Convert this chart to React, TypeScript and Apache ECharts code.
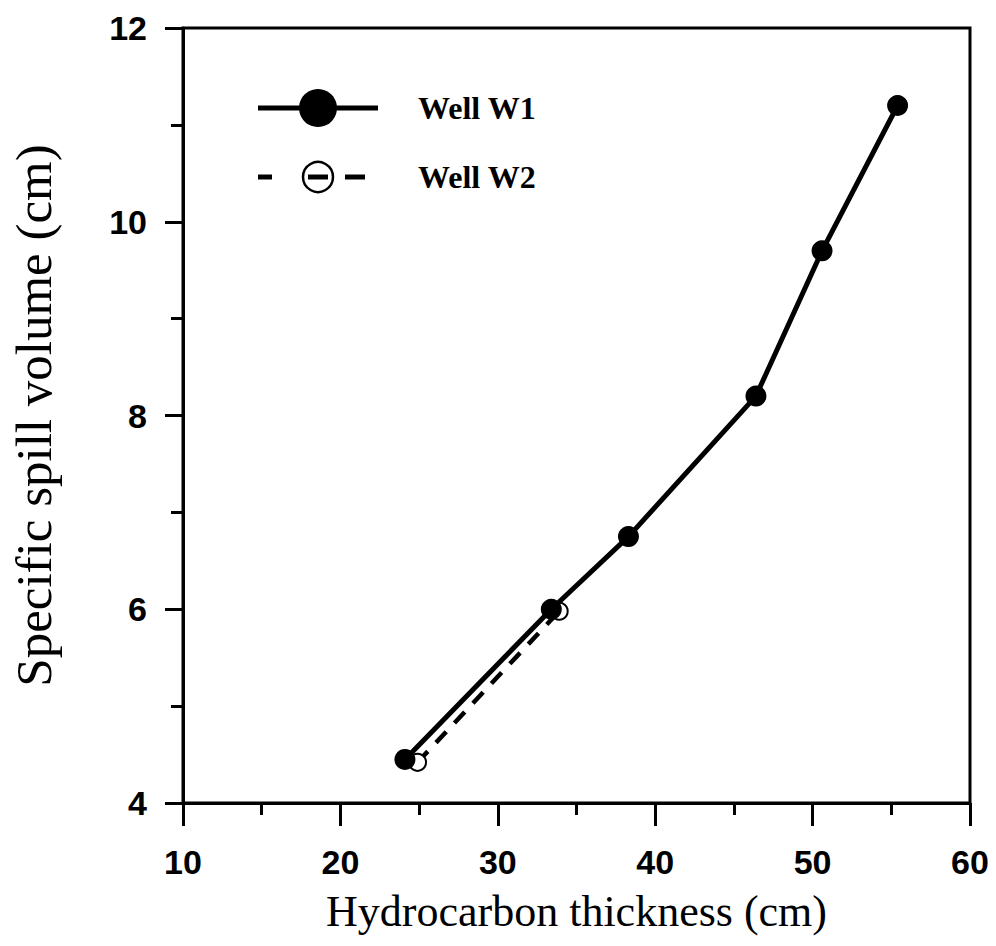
import React, { useEffect, useRef } from "react";
import * as echarts from "echarts";

const well1X = [24.1, 33.4, 38.3, 46.4, 50.6, 55.4];
const well1Y = [4.45, 6.0, 6.75, 8.2, 9.7, 11.2];
const well2X = [24.9, 33.9];
const well2Y = [4.42, 5.98];
const xTicks = [10, 20, 30, 40, 50, 60];
const yTicks = [4, 6, 8, 10, 12];
const seriesNames = ["Well W1", "Well W2"];

const SERIF = "'Liberation Serif', 'Times New Roman', serif";
const SANS = "'Liberation Sans', Arial, sans-serif";

export default function App() {
  const ref = useRef<HTMLDivElement>(null);
  useEffect(() => {
    if (!ref.current) return;
    const chart = echarts.init(ref.current, null, { renderer: "svg" });
    const pair = (xs: number[], ys: number[]) => xs.map((x, i) => [x, ys[i]]);
    chart.setOption({
      animation: false,
      backgroundColor: "#fff",
      grid: {
        left: 183,
        right: 26,
        top: 28,
        bottom: 143,
        show: true,
        borderColor: "#000",
        borderWidth: 3,
      },
      xAxis: {
        type: "value",
        min: xTicks[0],
        max: xTicks[xTicks.length - 1],
        interval: 10,
        name: "Hydrocarbon thickness (cm)",
        nameLocation: "middle",
        nameGap: 86,
        nameTextStyle: { fontFamily: SERIF, fontSize: 44, color: "#000" },
        axisLine: { lineStyle: { color: "#000", width: 3 } },
        axisTick: { inside: false, length: 23, lineStyle: { color: "#000", width: 3 } },
        minorTick: { show: true, splitNumber: 2, length: 12, lineStyle: { color: "#000", width: 3 } },
        splitLine: { show: false },
        axisLabel: {
          margin: 42,
          fontFamily: SANS,
          fontWeight: "bold",
          fontSize: 34,
          color: "#000",
        },
      },
      yAxis: {
        type: "value",
        min: yTicks[0],
        max: yTicks[yTicks.length - 1],
        interval: 2,
        name: "Specific spill volume (cm)",
        nameLocation: "middle",
        nameGap: 124,
        nameTextStyle: { fontFamily: SERIF, fontSize: 51, color: "#000" },
        axisLine: { lineStyle: { color: "#000", width: 3 } },
        axisTick: { inside: false, length: 18, lineStyle: { color: "#000", width: 3 } },
        minorTick: { show: true, splitNumber: 2, length: 12, lineStyle: { color: "#000", width: 3 } },
        splitLine: { show: false },
        axisLabel: {
          margin: 36,
          fontFamily: SANS,
          fontWeight: "bold",
          fontSize: 34,
          color: "#000",
        },
      },
      series: [
        {
          name: seriesNames[1],
          type: "line",
          data: pair(well2X, well2Y),
          symbol: "emptyCircle",
          symbolSize: 17,
          z: 2,
          lineStyle: { color: "#000", width: 4.5, type: [15, 12] },
          itemStyle: { color: "#000", borderColor: "#000", borderWidth: 2.5 },
        },
        {
          name: seriesNames[0],
          type: "line",
          data: pair(well1X, well1Y),
          symbol: "circle",
          symbolSize: 21,
          z: 3,
          lineStyle: { color: "#000", width: 5 },
          itemStyle: { color: "#000" },
        },
      ],
      graphic: [
        { type: "line", shape: { x1: 258, y1: 108, x2: 378, y2: 108 }, style: { stroke: "#000", lineWidth: 5 } },
        { type: "circle", shape: { cx: 318, cy: 108, r: 19 }, style: { fill: "#000" } },
        {
          type: "text",
          x: 418,
          y: 108,
          style: { text: seriesNames[0], fontFamily: SERIF, fontWeight: "bold", fontSize: 32, fill: "#000", verticalAlign: "middle" },
        },
        { type: "line", shape: { x1: 258, y1: 177, x2: 272, y2: 177 }, style: { stroke: "#000", lineWidth: 5 } },
        { type: "line", shape: { x1: 345, y1: 177, x2: 365, y2: 177 }, style: { stroke: "#000", lineWidth: 5 } },
        { type: "circle", shape: { cx: 318, cy: 177, r: 15 }, style: { fill: "#fff", stroke: "#000", lineWidth: 2.5 } },
        { type: "line", shape: { x1: 308, y1: 177, x2: 328, y2: 177 }, style: { stroke: "#000", lineWidth: 5 } },
        {
          type: "text",
          x: 418,
          y: 177,
          style: { text: seriesNames[1], fontFamily: SERIF, fontWeight: "bold", fontSize: 32, fill: "#000", verticalAlign: "middle" },
        },
      ],
    });
    return () => chart.dispose();
  }, []);
  return (
    <div
      ref={ref}
      style={{ position: "fixed", left: 0, top: 0, width: 996, height: 946, background: "#fff" }}
    />
  );
}
